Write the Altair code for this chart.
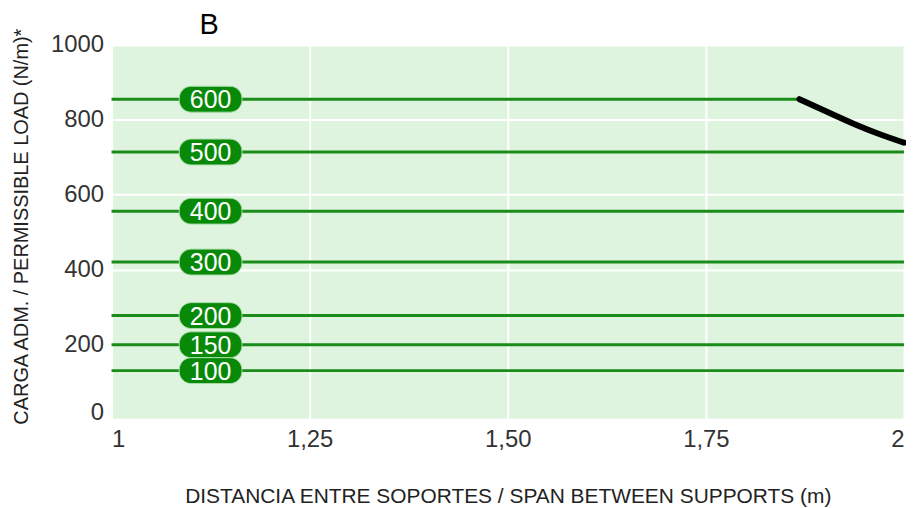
import altair as alt
import pandas as pd

# Data
labels = ["600", "500", "400", "300", "200", "150", "100"]
loads = [855, 714, 556, 420, 277, 199, 130]
x_start = [1, 1, 1, 1, 1, 1, 1]
x_end = [1.868, 2, 2, 2, 2, 2, 2]

curve_x = [1.868, 1.898, 1.940, 1.973, 2.0]
curve_y = [855, 826, 785, 758, 739]

x_ticks = [1, 1.25, 1.5, 1.75, 2]
y_ticks = [0, 200, 400, 600, 800, 1000]

FONT = "Liberation Sans"
LINE_GREEN = "#1a8c1a"
BADGE_GREEN = "#088a08"

lines_df = pd.DataFrame({"label": labels, "load": loads, "x0": x_start, "x1": x_end})
curve_df = pd.DataFrame({"x": curve_x, "y": curve_y})
title_df = pd.DataFrame({"t": ["B"]})

x_scale = alt.Scale(domain=[1, 2], nice=False, zero=False)
y_scale = alt.Scale(domain=[0, 1000], nice=False)

x_axis = alt.Axis(
    values=x_ticks,
    labelExpr="datum.value == 1 ? '1' : datum.value == 2 ? '2' : replace(format(datum.value, '.2f'), '.', ',')",
    labelFontSize=24, labelColor="#333333", labelFont=FONT, labelPadding=8,
    ticks=False, tickSize=0, domain=False,
    grid=True, gridColor="white", gridWidth=2,
    title="DISTANCIA ENTRE SOPORTES / SPAN BETWEEN SUPPORTS (m)",
    titleFont=FONT, titleFontSize=21, titleFontWeight="normal", titleColor="#222222",
    titleY=78, titleBaseline="middle",
)
y_axis = alt.Axis(
    values=y_ticks, format="d",
    labelFontSize=24, labelColor="#333333", labelFont=FONT, labelPadding=8,
    labelBaseline={"condition": {"test": "datum.value == 0", "value": "alphabetic"}, "value": "middle"},
    ticks=False, tickSize=0, domain=False,
    grid=True, gridColor="white", gridWidth=2,
    title="CARGA ADM. / PERMISSIBLE LOAD (N/m)*",
    titleFont=FONT, titleFontSize=20, titleFontWeight="normal", titleColor="#222222",
    titleX=-90, titleY=182, titleBaseline="middle",
)

rules = alt.Chart(lines_df).mark_rule(color=LINE_GREEN, strokeWidth=3).encode(
    x=alt.X("x0:Q", scale=x_scale, axis=x_axis),
    x2="x1:Q",
    y=alt.Y("load:Q", scale=y_scale, axis=y_axis),
)

curve = alt.Chart(curve_df).mark_line(
    color="black", strokeWidth=6, strokeCap="round", interpolate="basis"
).encode(x=alt.X("x:Q", scale=x_scale), y=alt.Y("y:Q", scale=y_scale))

badges = alt.Chart(lines_df).mark_rect(
    height=26, cornerRadius=12, fill=BADGE_GREEN, stroke="#a8dca8", strokeWidth=1
).encode(x=alt.value(68), x2=alt.value(131), y=alt.Y("load:Q", scale=y_scale))

badge_text = alt.Chart(lines_df).mark_text(
    color="white", fontSize=25, font=FONT, baseline="middle", align="center", dy=1
).encode(x=alt.value(99.5), y=alt.Y("load:Q", scale=y_scale), text="label:N")

title_b = alt.Chart(title_df).mark_text(
    fontSize=29, font=FONT, color="black", align="center", baseline="middle"
).encode(x=alt.value(98), y=alt.value(-20), text="t:N")

chart = alt.layer(rules, curve, badges, badge_text, title_b).properties(
    width=796, height=376,
    autosize=alt.AutoSizeParams(type="none"),
    padding={"left": 104, "top": 36, "right": 2, "bottom": 88},
).configure_view(fill="#dff4df", stroke=None)

chart.save("out.html", embed_options={"renderer": "svg", "actions": False})
